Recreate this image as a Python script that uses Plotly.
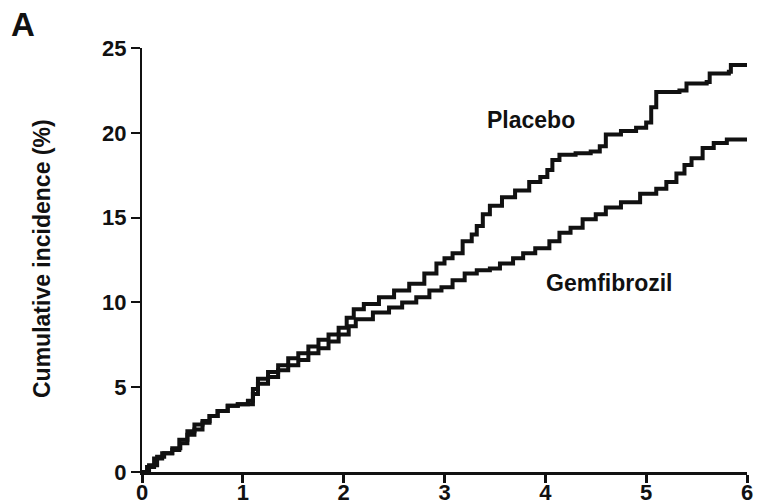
import plotly.graph_objects as go

# Years of follow-up and cumulative incidence (%)
placebo_years = [0, 0.05, 0.12, 0.2, 0.3, 0.38, 0.45, 0.52, 0.6, 0.67, 0.75, 0.85, 0.95,
                 1.05, 1.1, 1.15, 1.25, 1.35, 1.45, 1.55, 1.65, 1.75, 1.85, 1.95, 2.03,
                 2.1, 2.2, 2.35, 2.5, 2.65, 2.8, 2.92, 3.0, 3.08, 3.18, 3.27, 3.32, 3.38,
                 3.45, 3.57, 3.7, 3.84, 3.95, 4.02, 4.07, 4.14, 4.3, 4.45, 4.54, 4.6,
                 4.75, 4.9, 5.0, 5.05, 5.1, 5.33, 5.4, 5.6, 5.63, 5.82, 5.84, 6.0]
placebo_incidence = [0, 0.3, 0.8, 1.1, 1.4, 1.7, 2.2, 2.5, 2.9, 3.3, 3.6, 3.9, 4.0,
                     4.2, 4.9, 5.5, 5.9, 6.3, 6.7, 7.0, 7.4, 7.8, 8.1, 8.5, 9.1,
                     9.6, 9.9, 10.3, 10.7, 11.1, 11.7, 12.3, 12.6, 12.9, 13.6, 14.0, 14.5, 15.2,
                     15.7, 16.2, 16.6, 17.1, 17.4, 17.8, 18.4, 18.7, 18.8, 18.9, 19.2, 19.9,
                     20.1, 20.3, 20.6, 21.5, 22.4, 22.5, 22.9, 23.0, 23.5, 23.6, 24.0, 24.0]

gem_years = [0, 0.07, 0.15, 0.22, 0.3, 0.37, 0.45, 0.52, 0.6, 0.67, 0.75, 0.85, 0.95,
             1.05, 1.1, 1.15, 1.25, 1.35, 1.45, 1.55, 1.65, 1.75, 1.85, 1.95, 2.05,
             2.12, 2.29, 2.45, 2.58, 2.72, 2.85, 2.97, 3.08, 3.2, 3.32, 3.45, 3.55,
             3.68, 3.78, 3.9, 4.04, 4.14, 4.25, 4.37, 4.5, 4.6, 4.75, 4.94, 5.1,
             5.2, 5.3, 5.38, 5.45, 5.56, 5.67, 5.8, 6.0]
gem_incidence = [0, 0.4, 0.9, 1.1, 1.3, 1.9, 2.4, 2.8, 3.0, 3.3, 3.6, 3.9, 4.0,
                 4.0, 4.6, 5.2, 5.6, 6.0, 6.3, 6.6, 7.0, 7.3, 7.7, 8.1, 8.6,
                 9.0, 9.4, 9.7, 10.0, 10.3, 10.7, 10.9, 11.3, 11.7, 11.9, 12.0, 12.3,
                 12.6, 12.9, 13.2, 13.6, 14.1, 14.4, 14.9, 15.2, 15.6, 15.9, 16.4, 16.7,
                 17.1, 17.6, 18.1, 18.5, 19.1, 19.4, 19.6, 19.6]

x_ticks = [0, 1, 2, 3, 4, 5, 6]
y_ticks = [0, 5, 10, 15, 20, 25]

FONT = "Liberation Sans, Arial, Helvetica, sans-serif"
INK = "#111111"

# page body has an 8px margin; figure sized to fit the window
W, H = 757, 496
L, R, T, B = 134, 18, 40, 32
PW, PH = W - L - R, H - T - B

fig = go.Figure()
fig.add_trace(go.Scatter(x=placebo_years, y=placebo_incidence, mode="lines",
                         line=dict(color=INK, width=4, shape="hv"), name="Placebo",
                         showlegend=False))
fig.add_trace(go.Scatter(x=gem_years, y=gem_incidence, mode="lines",
                         line=dict(color=INK, width=4, shape="hv"), name="Gemfibrozil",
                         showlegend=False))

fig.add_annotation(x=3.853, y=20.75, text="Placebo", showarrow=False,
                   font=dict(family=FONT, size=23, color=INK, weight="bold"),
                   xanchor="center", yanchor="middle")
fig.add_annotation(x=4.64, y=11.14, text="Gemfibrozil", showarrow=False,
                   font=dict(family=FONT, size=23, color=INK, weight="bold"),
                   xanchor="center", yanchor="middle")
fig.add_annotation(xref="paper", yref="paper", x=(42 - 8 - L) / PW, y=(H - B - (259 - 8)) / PH,
                   text="Cumulative incidence (%)", textangle=-90, showarrow=False,
                   font=dict(family=FONT, size=23, color=INK, weight="bold"),
                   xanchor="center", yanchor="middle")
fig.add_annotation(xref="paper", yref="paper", x=(10 - 8 - L) / PW, y=(H - B - (25 - 8)) / PH,
                   text="A", showarrow=False, borderpad=0,
                   font=dict(family=FONT, size=33, color=INK, weight="bold"),
                   xanchor="left", yanchor="middle")

fig.update_xaxes(range=[0, 6], tickvals=x_ticks, ticktext=[str(v) for v in x_ticks],
                 showline=True, linecolor=INK, linewidth=2.5, ticks="outside",
                 ticklen=8, tickwidth=2.5, tickcolor=INK, showgrid=False, zeroline=False,
                 automargin=False, ticklabelstandoff=-9,
                 tickfont=dict(family=FONT, size=22, color=INK, weight="bold"))
fig.update_yaxes(range=[0, 25], tickvals=y_ticks, ticktext=[str(v) for v in y_ticks],
                 showline=True, linecolor=INK, linewidth=2, ticks="outside",
                 ticklen=9, tickwidth=2, tickcolor=INK, showgrid=False, zeroline=False,
                 automargin=False,
                 tickfont=dict(family=FONT, size=22, color=INK, weight="bold"))

fig.update_layout(width=W, height=H, margin=dict(l=L, r=R, t=T, b=B, autoexpand=False),
                  paper_bgcolor="white", plot_bgcolor="white")

fig.write_html("out.html")
